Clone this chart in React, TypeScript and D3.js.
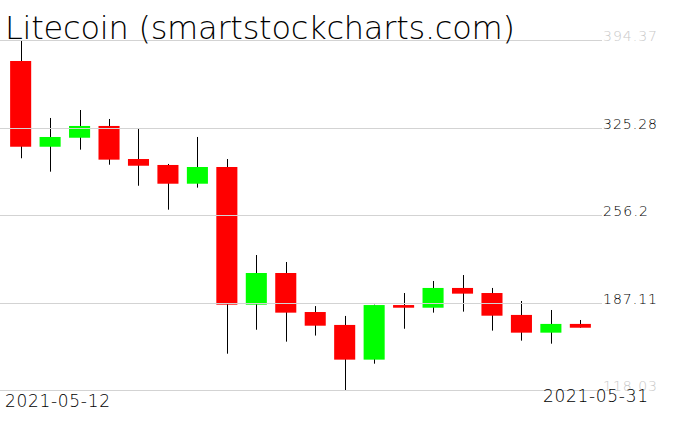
import React from "react";
import * as d3 from "d3";

const dates = [
  "2021-05-12", "2021-05-13", "2021-05-14", "2021-05-15", "2021-05-16",
  "2021-05-17", "2021-05-18", "2021-05-19", "2021-05-20", "2021-05-21",
  "2021-05-22", "2021-05-23", "2021-05-24", "2021-05-25", "2021-05-26",
  "2021-05-27", "2021-05-28", "2021-05-29", "2021-05-30", "2021-05-31",
];
const opens = [377.8, 310.1, 317.2, 326.5, 300.4, 295.7, 280.9, 294.1, 185.4, 210.4, 179.6, 169.4, 142.0, 185.1, 183.0, 198.6, 194.6, 177.3, 163.3, 170.2];
const highs = [394.37, 332.8, 339.1, 332.0, 324.1, 296.5, 317.8, 300.4, 224.6, 219.1, 184.3, 176.5, 185.4, 194.6, 204.1, 208.8, 198.6, 188.3, 181.2, 173.3];
const lows = [301.0, 290.4, 307.8, 295.9, 279.3, 260.4, 277.8, 146.7, 165.6, 156.2, 161.0, 118.03, 138.8, 166.4, 179.1, 179.9, 164.9, 157.0, 154.6, 167.2];
const closes = [310.1, 317.8, 326.5, 299.9, 295.1, 280.9, 294.1, 185.4, 210.4, 179.1, 168.8, 142.0, 185.1, 183.0, 198.6, 194.1, 176.7, 163.3, 170.2, 167.2];
const yTicks = [394.37, 325.28, 256.2, 187.11, 118.03];
const yTickLabels = ["394.37", "325.28", "256.2", "187.11", "118.03"];
const title = "Litecoin (smartstockcharts.com)";

export default function App() {
  const W = 676, H = 431;
  const x = d3.scaleBand<string>().domain(dates).range([6, 595]).paddingInner(0.285).paddingOuter(0.14);
  const y = d3.scaleLinear().domain([118.03, 394.37]).range([390, 40]);
  const bw = x.bandwidth();
  const font = "'DejaVu Sans', sans-serif";
  return (
    <svg width={W} height={H} style={{ position: "absolute", left: 0, top: 0, background: "#fff" }}>
      {dates.map((d, i) => {
        const cx = Math.round((x(d) as number) + bw / 2) + 0.5;
        const up = closes[i] >= opens[i];
        const top = y(Math.max(opens[i], closes[i]));
        const bot = y(Math.min(opens[i], closes[i]));
        return (
          <g key={d}>
            <line x1={cx} x2={cx} y1={y(highs[i])} y2={y(lows[i])} stroke="#000" strokeWidth={1} />
            <rect x={x(d)} y={top} width={bw} height={Math.max(1, bot - top)} fill={up ? "#00ff00" : "#ff0000"} />
          </g>
        );
      })}
      {yTicks.map((t, i) => (
        <g key={t}>
          <line x1={0} x2={602} y1={Math.round(y(t)) + 0.5} y2={Math.round(y(t)) + 0.5} stroke="#d3d3d3" strokeWidth={1} />
          <text
            x={603}
            y={y(t) + 1}
            fontFamily={font}
            fontWeight={200}
            fontSize={14}
            textLength={yTickLabels[i].length === 6 ? 54 : 45}
            lengthAdjust="spacing"
            fill={i === 0 || i === yTicks.length - 1 ? "#c8c8c8" : "#000"}
          >
            {yTickLabels[i]}
          </text>
        </g>
      ))}
      <text x={5} y={39} fontFamily={font} fontWeight={200} fontSize={32} textLength={510} lengthAdjust="spacing" fill="#000">
        {title}
      </text>
      <text x={5} y={407} fontFamily={font} fontWeight={200} fontSize={17} textLength={105} lengthAdjust="spacing" fill="#000">
        {dates[0]}
      </text>
      <text x={543} y={402} fontFamily={font} fontWeight={200} fontSize={17} textLength={105} lengthAdjust="spacing" fill="#000">
        {dates[dates.length - 1]}
      </text>
    </svg>
  );
}
